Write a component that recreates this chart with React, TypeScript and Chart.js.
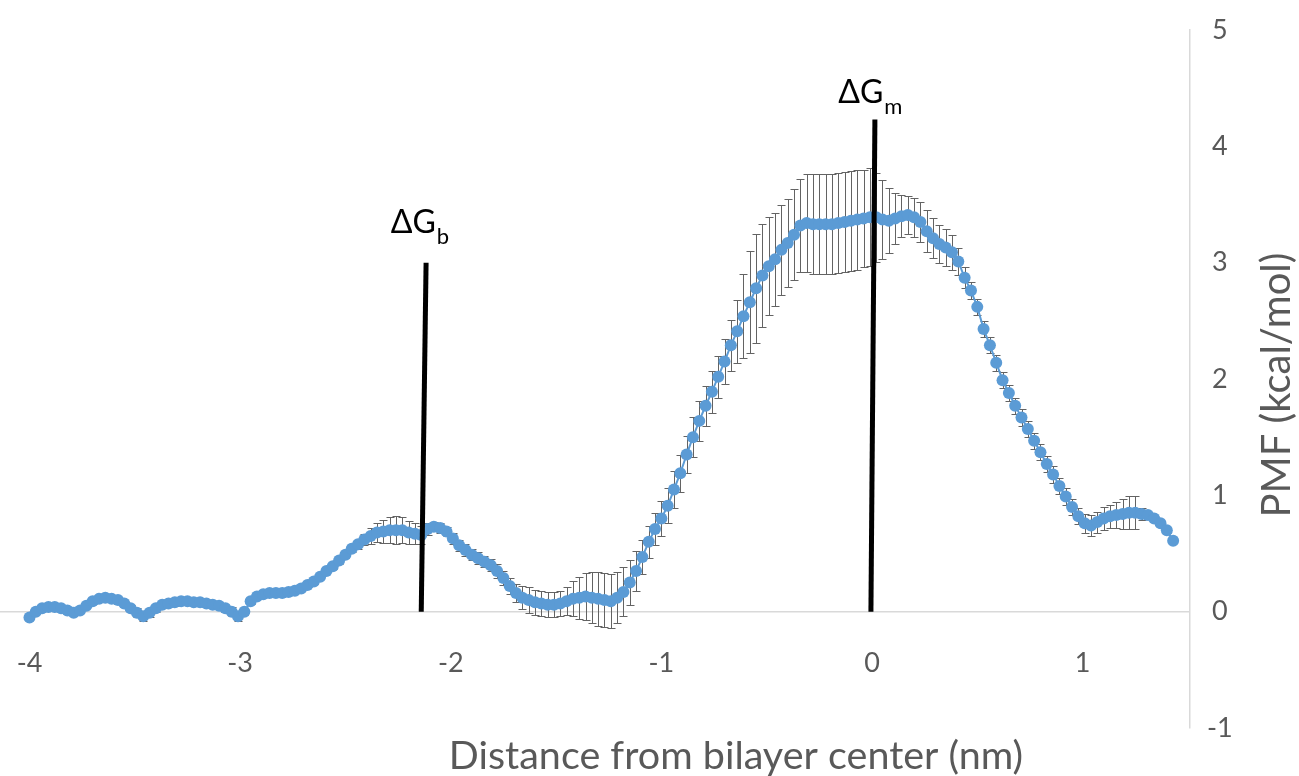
import React, { useEffect, useRef } from 'react';
import { Chart, registerables } from 'chart.js';

Chart.register(...registerables);

// Distance from bilayer center (nm)
const DISTANCE = [
  -4.00, -3.97, -3.94, -3.91, -3.88, -3.85, -3.82, -3.79, -3.76, -3.73,
  -3.70, -3.67, -3.64, -3.61, -3.58, -3.55, -3.52, -3.49, -3.46, -3.43,
  -3.40, -3.37, -3.34, -3.31, -3.28, -3.25, -3.22, -3.19, -3.16, -3.13,
  -3.10, -3.07, -3.04, -3.01, -2.98, -2.95, -2.92, -2.89, -2.86, -2.83,
  -2.80, -2.77, -2.74, -2.71, -2.68, -2.65, -2.62, -2.59, -2.56, -2.53,
  -2.50, -2.47, -2.44, -2.41, -2.38, -2.35, -2.32, -2.29, -2.26, -2.23,
  -2.20, -2.17, -2.14, -2.11, -2.08, -2.05, -2.02, -1.99, -1.96, -1.93,
  -1.90, -1.87, -1.84, -1.81, -1.78, -1.75, -1.72, -1.69, -1.66, -1.63,
  -1.60, -1.57, -1.54, -1.51, -1.48, -1.45, -1.42, -1.39, -1.36, -1.33,
  -1.30, -1.27, -1.24, -1.21, -1.18, -1.15, -1.12, -1.09, -1.06, -1.03,
  -1.00, -0.97, -0.94, -0.91, -0.88, -0.85, -0.82, -0.79, -0.76, -0.73,
  -0.70, -0.67, -0.64, -0.61, -0.58, -0.55, -0.52, -0.49, -0.46, -0.43,
  -0.40, -0.37, -0.34, -0.31, -0.28, -0.25, -0.22, -0.19, -0.16, -0.13,
  -0.10, -0.07, -0.04, -0.01, 0.02, 0.05, 0.08, 0.11, 0.14, 0.17,
  0.20, 0.23, 0.26, 0.29, 0.32, 0.35, 0.38, 0.41, 0.44, 0.47,
  0.50, 0.53, 0.56, 0.59, 0.62, 0.65, 0.68, 0.71, 0.74, 0.77,
  0.80, 0.83, 0.86, 0.89, 0.92, 0.95, 0.98, 1.01, 1.04, 1.07,
  1.10, 1.13, 1.16, 1.19, 1.22, 1.25, 1.28, 1.31, 1.34, 1.37,
  1.40, 1.43,
];

// PMF (kcal/mol)
const PMF = [
  -0.05, 0.00, 0.03, 0.04, 0.04, 0.03, 0.01, -0.01, 0.01, 0.05,
  0.09, 0.11, 0.12, 0.11, 0.10, 0.07, 0.03, -0.01, -0.04, -0.01,
  0.03, 0.06, 0.07, 0.08, 0.09, 0.09, 0.08, 0.08, 0.07, 0.06,
  0.05, 0.03, 0.00, -0.04, 0.00, 0.09, 0.13, 0.15, 0.16, 0.16,
  0.16, 0.17, 0.18, 0.20, 0.23, 0.26, 0.30, 0.35, 0.39, 0.44,
  0.49, 0.54, 0.58, 0.62, 0.65, 0.68, 0.69, 0.70, 0.70, 0.70,
  0.68, 0.67, 0.66, 0.71, 0.73, 0.72, 0.69, 0.63, 0.57, 0.53,
  0.49, 0.46, 0.43, 0.40, 0.35, 0.29, 0.22, 0.16, 0.12, 0.10,
  0.08, 0.07, 0.06, 0.06, 0.07, 0.09, 0.11, 0.12, 0.13, 0.12,
  0.11, 0.10, 0.09, 0.12, 0.17, 0.25, 0.35, 0.47, 0.60, 0.71,
  0.80, 0.91, 1.05, 1.19, 1.35, 1.50, 1.64, 1.77, 1.89, 2.02,
  2.15, 2.29, 2.41, 2.54, 2.66, 2.78, 2.89, 2.97, 3.03, 3.11,
  3.17, 3.24, 3.32, 3.34, 3.33, 3.33, 3.33, 3.33, 3.34, 3.35,
  3.36, 3.37, 3.38, 3.39, 3.39, 3.37, 3.36, 3.38, 3.40, 3.41,
  3.39, 3.35, 3.27, 3.21, 3.16, 3.13, 3.09, 3.01, 2.87, 2.76,
  2.62, 2.43, 2.29, 2.14, 1.99, 1.88, 1.77, 1.67, 1.57, 1.47,
  1.37, 1.27, 1.18, 1.08, 0.99, 0.90, 0.82, 0.76, 0.74, 0.77,
  0.80, 0.82, 0.83, 0.84, 0.85, 0.85, 0.84, 0.83, 0.80, 0.76,
  0.70, 0.61,
];

// Error (± kcal/mol)
const PMF_ERROR = [
  0.02, 0.02, 0.02, 0.02, 0.02, 0.02, 0.02, 0.02, 0.02, 0.02,
  0.02, 0.02, 0.02, 0.02, 0.03, 0.03, 0.03, 0.04, 0.04, 0.04,
  0.03, 0.03, 0.03, 0.03, 0.03, 0.03, 0.03, 0.03, 0.03, 0.03,
  0.03, 0.03, 0.04, 0.04, 0.03, 0.02, 0.02, 0.02, 0.02, 0.02,
  0.02, 0.02, 0.02, 0.02, 0.02, 0.02, 0.02, 0.02, 0.02, 0.03,
  0.03, 0.03, 0.04, 0.05, 0.07, 0.08, 0.10, 0.11, 0.12, 0.11,
  0.10, 0.09, 0.08, 0.05, 0.04, 0.04, 0.04, 0.05, 0.05, 0.05,
  0.05, 0.05, 0.05, 0.05, 0.06, 0.06, 0.07, 0.08, 0.10, 0.11,
  0.11, 0.11, 0.11, 0.11, 0.11, 0.12, 0.15, 0.18, 0.20, 0.22,
  0.23, 0.23, 0.23, 0.22, 0.21, 0.19, 0.17, 0.15, 0.14, 0.14,
  0.15, 0.15, 0.16, 0.16, 0.16, 0.17, 0.17, 0.17, 0.18, 0.18,
  0.19, 0.22, 0.27, 0.36, 0.44, 0.47, 0.44, 0.42, 0.40, 0.39,
  0.38, 0.39, 0.40, 0.42, 0.43, 0.43, 0.43, 0.43, 0.43, 0.43,
  0.43, 0.43, 0.42, 0.42, 0.38, 0.34, 0.28, 0.22, 0.18, 0.16,
  0.17, 0.17, 0.18, 0.17, 0.16, 0.16, 0.15, 0.12, 0.09, 0.07,
  0.07, 0.07, 0.07, 0.07, 0.07, 0.07, 0.07, 0.07, 0.07, 0.07,
  0.07, 0.07, 0.07, 0.07, 0.07, 0.07, 0.07, 0.08, 0.09, 0.09,
  0.10, 0.10, 0.11, 0.13, 0.14, 0.14, 0.05, 0.02, 0.02, 0.02,
  0.02, 0.02,
];

const X_TICKS = [-4, -3, -2, -1, 0, 1];
const Y_TICKS = [-1, 0, 1, 2, 3, 4, 5];

// Annotation markers (data coordinates)
const MARKER_B_X = [-2.14, -2.117];
const MARKER_B_Y = [0, 3.0];
const MARKER_M_X = [-0.005, 0.014];
const MARKER_M_Y = [0, 4.23];
const LABEL_MAIN = 'ΔG';
const LABEL_B_SUB = 'b';
const LABEL_M_SUB = 'm';
const LABEL_B_POS = [-2.285, 3.256];
const LABEL_M_POS = [-0.16, 4.373];

const X_TITLE = 'Distance from bilayer center (nm)';
const Y_TITLE = 'PMF (kcal/mol)';

const FONT = 'Lato';
const GRAY = '#595959';
const BLUE = '#5b9bd5';

const errorBarPlugin = {
  id: 'errorBars',
  beforeDatasetsDraw(chart: any) {
    const { ctx } = chart;
    const xs = chart.scales.x;
    const ys = chart.scales.y;
    ctx.save();
    ctx.strokeStyle = '#636363';
    ctx.lineWidth = 1;
    const cap = 4;
    for (let i = 0; i < PMF.length; i++) {
      const px = Math.round(xs.getPixelForValue(DISTANCE[i])) + 0.5;
      const top = Math.round(ys.getPixelForValue(PMF[i] + PMF_ERROR[i])) + 0.5;
      const bot = Math.round(ys.getPixelForValue(PMF[i] - PMF_ERROR[i])) + 0.5;
      ctx.beginPath();
      ctx.moveTo(px, top);
      ctx.lineTo(px, bot);
      ctx.moveTo(px - cap, top);
      ctx.lineTo(px + cap, top);
      ctx.moveTo(px - cap, bot);
      ctx.lineTo(px + cap, bot);
      ctx.stroke();
    }
    ctx.restore();
  },
};

const textPlugin = {
  id: 'texts',
  afterDraw(chart: any) {
    const { ctx } = chart;
    const xs = chart.scales.x;
    const ys = chart.scales.y;
    ctx.save();
    const drawLabel = (pos: number[], sub: string) => {
      const x = xs.getPixelForValue(pos[0]);
      const y = ys.getPixelForValue(pos[1]);
      ctx.fillStyle = '#000';
      ctx.textAlign = 'left';
      ctx.textBaseline = 'alphabetic';
      ctx.font = `32px ${FONT}`;
      ctx.fillText(LABEL_MAIN, x, y);
      const w = ctx.measureText(LABEL_MAIN).width;
      ctx.font = `22px ${FONT}`;
      ctx.fillText(sub, x + w + 1, y + 11);
    };
    drawLabel(LABEL_B_POS, LABEL_B_SUB);
    drawLabel(LABEL_M_POS, LABEL_M_SUB);

    ctx.fillStyle = GRAY;
    ctx.font = `39.5px ${FONT}`;
    ctx.textAlign = 'center';
    ctx.textBaseline = 'middle';
    ctx.fillText(X_TITLE, 736, 756);
    ctx.font = `40px ${FONT}`;
    ctx.translate(1277, 385);
    ctx.rotate(-Math.PI / 2);
    ctx.fillText(Y_TITLE, 0, 0);
    ctx.restore();
  },
};

export default function App() {
  const canvasRef = useRef<HTMLCanvasElement | null>(null);

  useEffect(() => {
    const canvas = canvasRef.current;
    if (!canvas) return;
    const pmfPoints = DISTANCE.map((x, i) => ({ x, y: PMF[i] }));
    const markerB = MARKER_B_X.map((x, i) => ({ x, y: MARKER_B_Y[i] }));
    const markerM = MARKER_M_X.map((x, i) => ({ x, y: MARKER_M_Y[i] }));

    const chart = new Chart(canvas, {
      type: 'scatter',
      data: {
        datasets: [
          { data: markerB, showLine: true, borderColor: '#000', borderWidth: 5, pointRadius: 0, order: 0 },
          { data: markerM, showLine: true, borderColor: '#000', borderWidth: 5, pointRadius: 0, order: 0 },
          {
            data: pmfPoints,
            showLine: true,
            borderColor: BLUE,
            borderWidth: 2,
            pointRadius: 6,
            pointBorderWidth: 0,
            pointBackgroundColor: BLUE,
            order: 1,
          },
        ],
      },
      options: {
        animation: false,
        responsive: false,
        events: [],
        layout: { autoPadding: false, padding: { top: 30, bottom: 48, left: 0, right: 0 } },
        plugins: {
          legend: { display: false },
          tooltip: { enabled: false },
        },
        scales: {
          x: {
            type: 'linear',
            position: { y: 0 } as any,
            min: -4.14,
            max: 1.51,
            afterBuildTicks: (s: any) => {
              s.ticks = X_TICKS.map((v) => ({ value: v }));
            },
            afterFit: (s: any) => {
              s.paddingLeft = 0;
              s.paddingRight = 0;
            },
            grid: { display: false, drawTicks: false },
            border: { display: false },
            ticks: {
              color: GRAY,
              font: { family: FONT, size: 27 },
              padding: 35,
              maxRotation: 0,
              autoSkip: false,
            },
          },
          y: {
            type: 'linear',
            position: 'right',
            min: -1,
            max: 5,
            afterBuildTicks: (s: any) => {
              s.ticks = Y_TICKS.map((v) => ({ value: v }));
            },
            afterFit: (s: any) => {
              s.width = 109;
              s.paddingTop = 0;
              s.paddingBottom = 0;
            },
            grid: {
              drawTicks: false,
              lineWidth: 1.5,
              color: (c: any) => (c.tick && c.tick.value === 0 ? '#d9d9d9' : 'rgba(0,0,0,0)'),
            },
            border: { display: true, color: '#d9d9d9', width: 1.5 },
            ticks: {
              color: GRAY,
              font: { family: FONT, size: 27 },
              padding: 17,
              crossAlign: 'center',
            },
          },
        },
      },
      plugins: [errorBarPlugin, textPlugin],
    });
    return () => chart.destroy();
  }, []);

  return (
    <div style={{ position: 'absolute', left: 0, top: 0, width: 1299, height: 776, background: '#fff' }}>
      <canvas ref={canvasRef} width={1299} height={776} />
    </div>
  );
}
